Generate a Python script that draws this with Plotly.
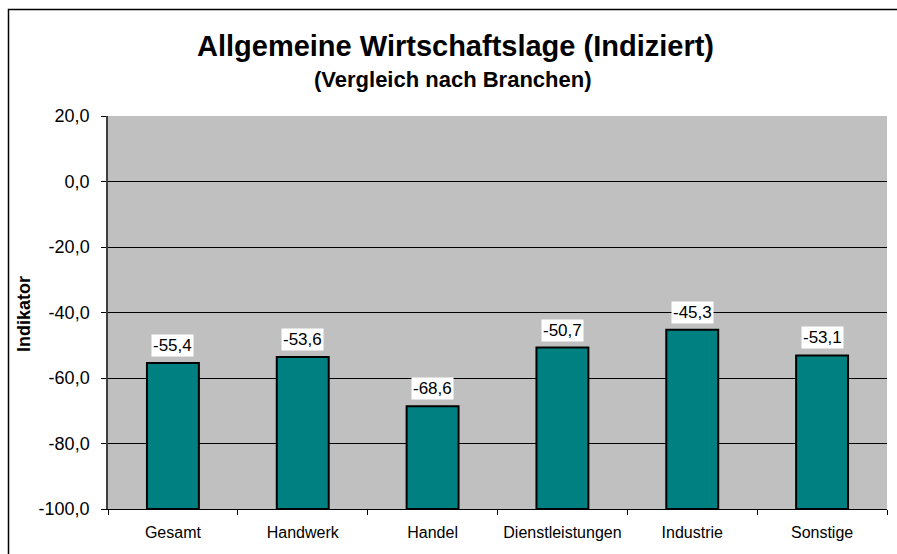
import plotly.graph_objects as go

categories = ["Gesamt", "Handwerk", "Handel", "Dienstleistungen", "Industrie", "Sonstige"]
values = [-55.4, -53.6, -68.6, -50.7, -45.3, -53.1]
y_tickvals = [-100, -80, -60, -40, -20, 0, 20]
y_ticktext = ["-100,0", "-80,0", "-60,0", "-40,0", "-20,0", "0,0", "20,0"]
axis_min = -100
axis_max = 20

FONT = "Liberation Sans, Arial, sans-serif"

# plot area in pixels (for paper-coordinate conversions of decorations)
L, R, T, B = 108, 10, 116, 45
W, H = 897, 554
pw = W - L - R
ph = H - T - B

def px_x(x):
    return (x - L) / pw

def px_y(y):
    return (H - B - y) / ph

fig = go.Figure()
fig.add_trace(go.Bar(
    x=categories,
    y=[v - axis_min for v in values],
    base=axis_min,
    width=0.4,
    marker=dict(color="#008080", line=dict(color="black", width=2)),
    hoverinfo="skip",
))

annotations = []
for c, v in zip(categories, values):
    annotations.append(dict(
        x=c, y=v, xref="x", yref="y",
        text=f"{v:.1f}".replace(".", ","),
        showarrow=False, yanchor="bottom", yshift=6,
        bgcolor="white", borderpad=1,
        font=dict(family=FONT, size=17, color="black"),
    ))

annotations.append(dict(
    x=px_x(455), y=px_y(46), xref="paper", yref="paper",
    text="<b>Allgemeine Wirtschaftslage (Indiziert)</b>",
    showarrow=False, xanchor="center", yanchor="middle",
    font=dict(family=FONT, size=29, color="black"),
))
annotations.append(dict(
    x=px_x(453), y=px_y(79), xref="paper", yref="paper",
    text="<b>(Vergleich nach Branchen)</b>",
    showarrow=False, xanchor="center", yanchor="middle",
    font=dict(family=FONT, size=22, color="black"),
))
annotations.append(dict(
    x=px_x(24), y=px_y(314), xref="paper", yref="paper",
    text="<b>Indikator</b>", textangle=-90,
    showarrow=False, xanchor="center", yanchor="middle",
    font=dict(family=FONT, size=18, color="black"),
))

shapes = [dict(
    type="rect", xref="paper", yref="paper",
    x0=px_x(8.5), x1=px_x(905), y0=px_y(562), y1=px_y(9.5),
    line=dict(color="black", width=1.5), fillcolor="rgba(0,0,0,0)", layer="above",
)]

fig.update_layout(
    width=W, height=H,
    margin=dict(l=L, r=R, t=T, b=B, pad=0),
    paper_bgcolor="white",
    plot_bgcolor="#C0C0C0",
    showlegend=False,
    annotations=annotations,
    shapes=shapes,
    font=dict(family=FONT, size=17, color="black"),
    bargap=0.6,
)
fig.update_xaxes(
    type="category",
    showline=True, linecolor="black", linewidth=1,
    ticks="outside", ticklen=5, tickcolor="black", tickson="boundaries",
    ticklabelstandoff=9,
    showgrid=False,
    tickfont=dict(family=FONT, size=16, color="black"),
)
fig.update_yaxes(
    range=[axis_min, axis_max],
    tickvals=y_tickvals, ticktext=y_ticktext,
    showline=True, linecolor="#404040", linewidth=1.5,
    ticks="outside", ticklen=5, tickcolor="black",
    ticklabelstandoff=8,
    showgrid=True, gridcolor="black", gridwidth=1,
    zeroline=False,
    tickfont=dict(family=FONT, size=18, color="black"),
)

fig.write_html(
    "out.html",
    config={"displayModeBar": False},
    post_script="document.body.style.margin='0';document.body.style.overflow='hidden';",
)
